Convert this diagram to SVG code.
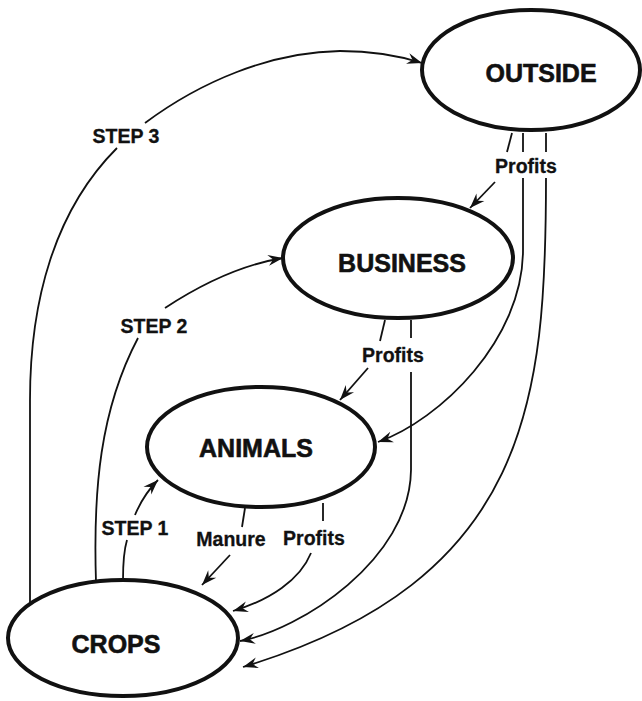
<svg xmlns="http://www.w3.org/2000/svg" width="642" height="701" viewBox="0 0 642 701">
<style>
.node ellipse{fill:#fff;stroke:#111;stroke-width:4}
.node text{font-family:"Liberation Sans",Arial,sans-serif;font-weight:bold;font-size:25px;fill:#111;stroke:#111;stroke-width:0.6;text-anchor:middle}
.conn path{fill:none;stroke:#111;stroke-width:1.8}
.lbl{font-family:"Liberation Sans",Arial,sans-serif;font-weight:bold;font-size:19.5px;fill:#111;stroke:#111;stroke-width:0.3;text-anchor:middle}
</style>
<defs>
<marker id="ah" markerUnits="userSpaceOnUse" markerWidth="20" markerHeight="14" viewBox="-16 -7 18 14" refX="0" refY="0" orient="auto">
<path d="M0,0 L-15,-5.5 L-10,0 L-15,5.5 Z" fill="#111"/>
</marker>
</defs>
<rect width="642" height="701" fill="#fff"/>
<g id="connectors" class="conn">
<path d="M30,605 L30,400 C30,300 55,210 117,148"/>
<path d="M145,123 C200,82 270,52 340,51 C375,51 400,56 422,63" marker-end="url(#ah)"/>
<path d="M96,582 C93,490 100,410 138,338"/>
<path d="M165,308 C200,285 240,265 283,258" marker-end="url(#ah)"/>
<path d="M123,580 C123,565 124,550 127,540"/>
<path d="M135,515 C140,503 148,490 158,480" marker-end="url(#ah)"/>
<path d="M245,508 L242,527"/>
<path d="M230,555 L202,585" marker-end="url(#ah)"/>
<path d="M323,503 L323,521"/>
<path d="M311,553 C300,580 270,600 233,611" marker-end="url(#ah)"/>
<path d="M385,320 L380,341"/>
<path d="M368,368 L340,400" marker-end="url(#ah)"/>
<path d="M411,320 L411,338"/>
<path d="M411,372 L411,470 C410,560 300,630 240,641" marker-end="url(#ah)"/>
<path d="M512,133 L507,152"/>
<path d="M495,182 L470,208" marker-end="url(#ah)"/>
<path d="M523,133 L523,152"/>
<path d="M523,178 L523,250 C523,340 440,420 378,442" marker-end="url(#ah)"/>
<path d="M546,133 L546,152"/>
<path d="M546,178 C546,400 530,580 243,667" marker-end="url(#ah)"/>
<text class="lbl" x="126" y="143">STEP 3</text>
<text class="lbl" x="154" y="333">STEP 2</text>
<text class="lbl" x="135" y="535">STEP 1</text>
<text class="lbl" x="231" y="546">Manure</text>
<text class="lbl" x="314" y="545">Profits</text>
<text class="lbl" x="393" y="362">Profits</text>
<text class="lbl" x="526" y="173">Profits</text>
</g>
<g id="outside" class="node"><ellipse cx="531" cy="70" rx="109" ry="60"/><text x="541" y="82">OUTSIDE</text></g>
<g id="business" class="node"><ellipse cx="398" cy="258" rx="115" ry="60"/><text x="402" y="272">BUSINESS</text></g>
<g id="animals" class="node"><ellipse cx="261" cy="447" rx="114" ry="60"/><text x="256" y="457">ANIMALS</text></g>
<g id="crops" class="node"><ellipse cx="123" cy="638" rx="115" ry="58"/><text x="116" y="653">CROPS</text></g>
</svg>
